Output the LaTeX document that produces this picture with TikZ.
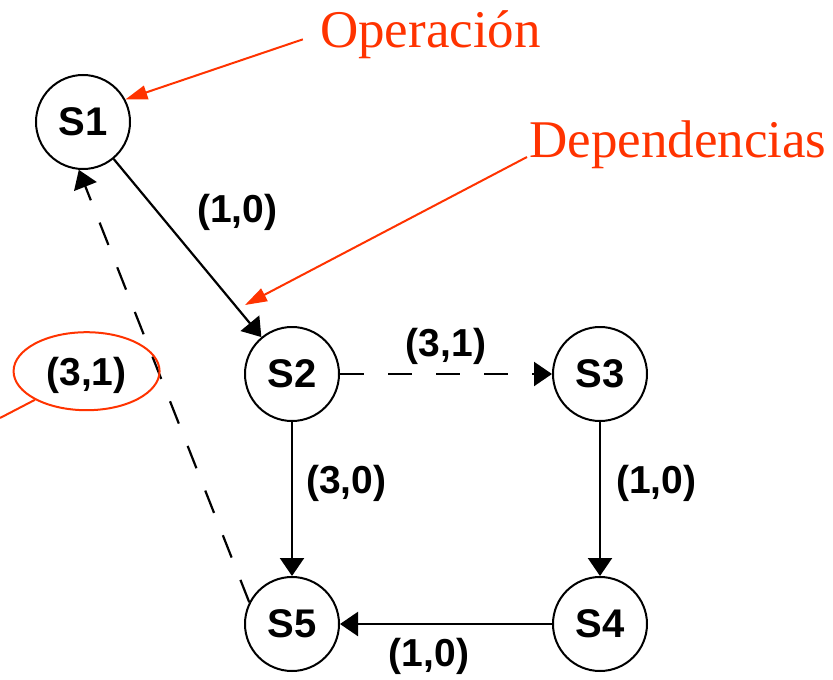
\documentclass[tikz,border=0pt]{standalone}
\usepackage{fontspec}
\setmainfont{Liberation Serif}
\setsansfont{Liberation Sans}
\usetikzlibrary{positioning}
\usetikzlibrary{arrows.meta}
\usetikzlibrary{shapes.geometric}
\definecolor{notered}{HTML}{FF3300}

\begin{document}
\begin{tikzpicture} [
    x=1pt, y=-1pt, on grid,
    state/.style = {draw, circle, line width=2pt, minimum size=94pt, inner sep=0pt,
                    font=\fontsize{40}{42}\sffamily\bfseries},
    dep/.style = {draw, line width=2.2pt, -{Triangle[length=18pt,width=24pt]}},
    weak/.style = {dep, dash pattern=on 24pt off 24pt},
    pair/.style = {font=\fontsize{39}{41}\sffamily\bfseries, inner sep=2pt},
    note/.style = {text=notered, font=\fontsize{53}{60}\selectfont, inner sep=2pt},
    pointer/.style = {draw=notered, line width=2pt, -{Triangle[length=22pt,width=14pt]}}
    ]
    \useasboundingbox (0,0) rectangle (833,680);

    \node[state] (S1) at (83,122) {S1};
    \node[state, below right=252pt and 209pt of S1] (S2) {S2};
    \node[state, right=308pt of S2] (S3) {S3};
    \node[state, below=250pt of S3] (S4) {S4};
    \node[state, below=250pt of S2] (S5) {S5};

    \path (S1) edge [dep] node [pair, pos=0.3, right=36pt] {(1,0)} (S2);
    \path (S2) edge [weak] node [pair, above=6pt] {(3,1)} (S3);
    \path (S2) edge [dep] node [pair, pos=0.4, right=11pt] {(3,0)} (S5);
    \path (S3) edge [dep] node [pair, pos=0.4, right=13pt] {(1,0)} (S4);
    \path (S4) edge [dep] node [pair, pos=0.58, below=11pt] {(1,0)} (S5);
    \path (S5.153) edge [weak] node [pair, pos=0.525, left=30pt, name=lbl] {(3,1)} (S1.265);

    \node[ellipse, draw=notered, line width=2pt, minimum width=146pt, minimum height=78pt]
        (ring) at ([yshift=4pt]lbl.center) {};
    \coordinate (lead) at (0,418);
    \draw[draw=notered, line width=2pt] (ring.209) -- (lead);

    \node[note, anchor=base west] (op) at (318,47) {Operación};
    \node[note, anchor=base west] (dp) at (527,157) {Dependencias};
    \coordinate (edgept) at (245,305);
    \draw[pointer, shorten <=16pt] (op.west) -- (S1.28);
    \draw[pointer] (dp.base west) -- (edgept);
\end{tikzpicture}
\end{document}
